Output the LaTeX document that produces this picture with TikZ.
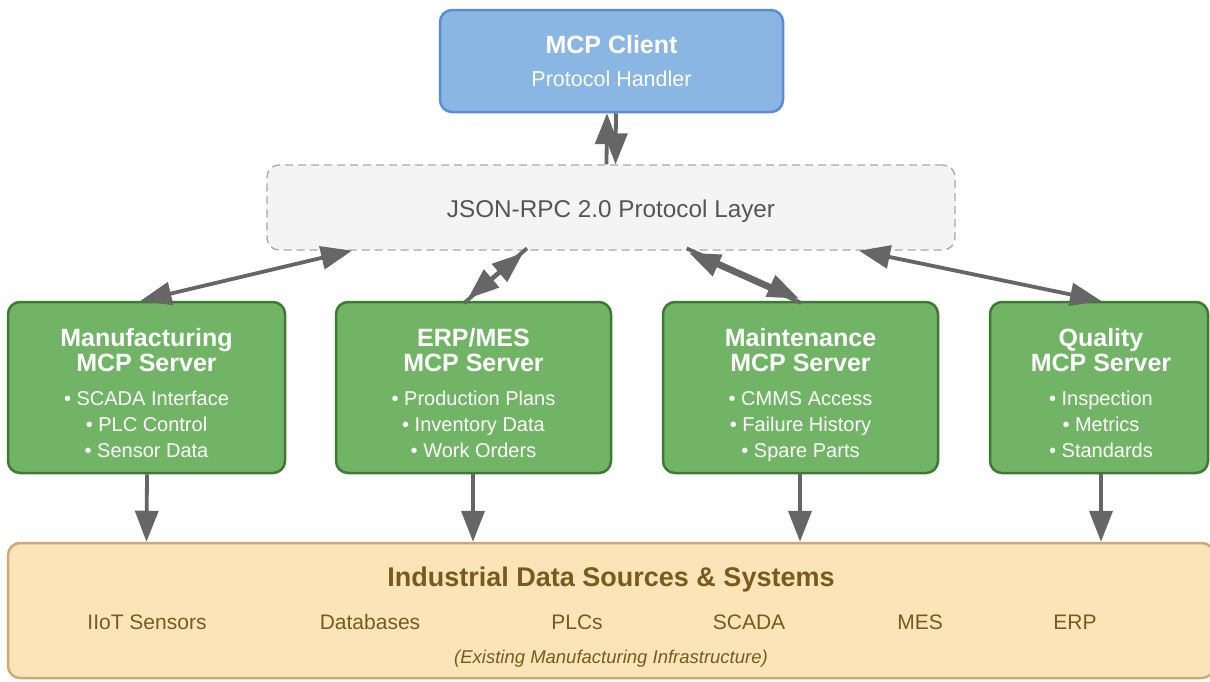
\documentclass[tikz,border=0pt]{standalone}
\usepackage{fontspec}
\setmainfont{Liberation Sans}
\usetikzlibrary{arrows.meta}
\definecolor{bluefill}{HTML}{8AB6E3}
\definecolor{blueline}{HTML}{5A8CD8}
\definecolor{greenfill}{HTML}{72B466}
\definecolor{greenline}{HTML}{3F7A35}
\definecolor{jsonfill}{HTML}{F4F4F4}
\definecolor{jsonline}{HTML}{A8A8A8}
\definecolor{jsontext}{HTML}{555555}
\definecolor{basefill}{HTML}{FAE4B8}
\definecolor{baseline}{HTML}{D0A878}
\definecolor{basetext}{HTML}{7A5A1C}
\definecolor{arrowgray}{HTML}{666666}
\tikzset{
  box/.style={rectangle, rounded corners=12pt, inner sep=0pt, line width=2.5pt},
  clientbox/.style={box, fill=bluefill, draw=blueline},
  serverbox/.style={box, fill=greenfill, draw=greenline, minimum height=171pt},
  jsonbox/.style={box, fill=jsonfill, draw=jsonline, dashed, dash pattern=on 8pt off 5pt, line width=1.3pt},
  basebox/.style={box, fill=basefill, draw=baseline},
  titletxt/.style={text=white, font=\fontsize{25}{26}\selectfont\bfseries, inner sep=0pt, anchor=base},
  itemtxt/.style={text=white, font=\fontsize{20}{22}\selectfont, inner sep=0pt, anchor=base},
  basetxt/.style={text=basetext, font=\fontsize{21}{22}\selectfont, inner sep=0pt, anchor=base},
  arr/.style={draw=arrowgray, line width=3.8pt, -{Triangle[length=31pt,width=23pt]}},
  darr/.style={draw=arrowgray, line width=3.8pt, {Triangle[length=31pt,width=23pt]}-{Triangle[length=31pt,width=23pt]}},
}
\begin{document}
\begin{tikzpicture}[x=1pt,y=-1pt]
\useasboundingbox (0,0) rectangle (1210,681);

% nodes
\node[clientbox, minimum width=343pt, minimum height=102pt] (client) at (611.5,61) {};
\node[titletxt] (clientt) at (611.5,53) {MCP Client};
\node[itemtxt, font=\fontsize{21.5}{22}\selectfont] (clients) at (611.5,86) {Protocol Handler};

\node[jsonbox, minimum width=688pt, minimum height=85pt] (json) at (611,207.5) {};
\node[text=jsontext, font=\fontsize{24.3}{26}\selectfont, inner sep=0pt, anchor=base] (jsont) at (611,217) {JSON-RPC 2.0 Protocol Layer};

\node[serverbox, minimum width=277pt] (manuf) at (146.5,387.5) {};
\node[serverbox, minimum width=275pt] (erp) at (473.5,387.5) {};
\node[serverbox, minimum width=275pt] (maint) at (800.5,387.5) {};
\node[serverbox, minimum width=218pt] (qual) at (1099,387.5) {};

\foreach \x/\a/\b/\n in {146.5/Manufacturing/MCP Server/m, 473.5/ERP\slash MES/MCP Server/e, 800.5/Maintenance/MCP Server/n, 1101/Quality/MCP Server/q}{
  \node[titletxt] (\n t1) at (\x,346) {\a};
  \node[titletxt] (\n t2) at (\x,371) {\b};
}
\foreach \x/\a/\b/\c/\n in {146.5/SCADA Interface/PLC Control/Sensor Data/m, 473.5/Production Plans/Inventory Data/Work Orders/e, 800.5/CMMS Access/Failure History/Spare Parts/n, 1101/Inspection/Metrics/Standards/q}{
  \node[itemtxt] (\n i1) at (\x,405) {• \a};
  \node[itemtxt] (\n i2) at (\x,431) {• \b};
  \node[itemtxt] (\n i3) at (\x,457) {• \c};
}

\node[basebox, minimum width=1206pt, minimum height=135pt] (base) at (611,610.5) {};
\node[basetxt, font=\fontsize{27}{28}\selectfont\bfseries] (baset) at (611,586) {Industrial Data Sources \& Systems};
\foreach \x/\t/\n in {147/IIoT Sensors/b1, 370/Databases/b2, 577/PLCs/b3, 749/SCADA/b4, 920/MES/b5, 1075/ERP/b6}{
  \node[basetxt] (\n) at (\x,629) {\t};
}
\node[basetxt, font=\fontsize{18.5}{20}\selectfont\itshape] (basef) at (611,663) {(Existing Manufacturing Infrastructure)};

% client <-> json
\draw[arr] ([xshift=-4.5pt]json.north) -- ([xshift=-4.5pt]client.south);
\draw[arr] ([xshift=4.5pt]client.south) -- ([xshift=4.5pt]json.north);

% json <-> servers
\draw[darr] ([xshift=-259pt]json.south) -- ([xshift=-6pt]manuf.north);
\begin{scope}[transform canvas={xshift=-2pt,yshift=-2.3pt}]
\draw[arr] ([xshift=-7.5pt]erp.north) -- ([xshift=-86pt]json.south);
\end{scope}
\begin{scope}[transform canvas={xshift=2pt,yshift=2.3pt}]
\draw[arr] ([xshift=-86pt]json.south) -- ([xshift=-7.5pt]erp.north);
\end{scope}
\begin{scope}[transform canvas={xshift=1.3pt,yshift=-2.2pt}]
\draw[arr] ([xshift=-0.5pt]maint.north) -- ([xshift=77pt]json.south);
\end{scope}
\begin{scope}[transform canvas={xshift=-1.3pt,yshift=2.2pt}]
\draw[arr] ([xshift=77pt]json.south) -- ([xshift=-0.5pt]maint.north);
\end{scope}
\draw[darr] ([xshift=248pt]json.south) -- ([xshift=2pt]qual.north);

% servers -> base
\draw[arr] ([xshift=0.5pt]manuf.south) -- (manuf.south |- base.north);
\draw[arr] ([xshift=-0.5pt]erp.south) -- ([xshift=-0.5pt]erp.south |- base.north);
\draw[arr] ([xshift=-0.5pt]maint.south) -- ([xshift=-0.5pt]maint.south |- base.north);
\draw[arr] ([xshift=2pt]qual.south) -- ([xshift=2pt]qual.south |- base.north);
\end{tikzpicture}
\end{document}
